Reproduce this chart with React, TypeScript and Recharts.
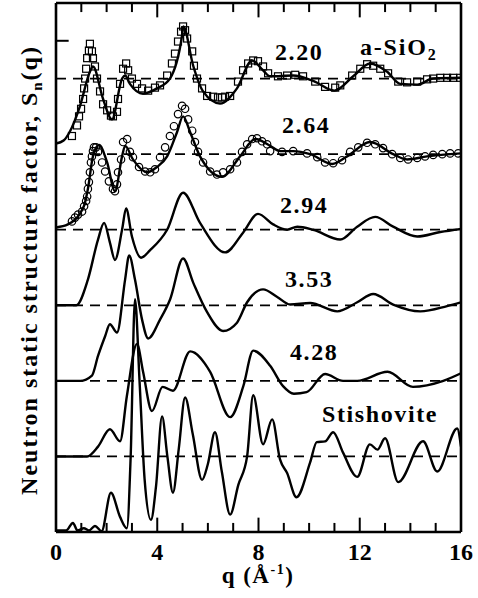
import React from 'react';
import {
  ComposedChart,
  Line,
  Scatter,
  XAxis,
  YAxis,
  ReferenceLine,
} from 'recharts';

// Sn(q), [q, S] pairs. Each curve is shifted up by its stack offset.
const fit220: [number, number][] = [
  [0, 0.14], [0.3, 0.18], [0.55, 0.3], [0.95, 0.64], [1.34, 1.09], [1.46, 1.16], [1.86, 0.73],
  [2.21, 0.46], [2.61, 1.0], [2.73, 1.04], [2.92, 0.93], [3.44, 0.8], [3.99, 0.87], [4.5, 1.0],
  [4.98, 1.57], [5.03, 1.69], [5.42, 1.17], [5.81, 0.83], [6.48, 0.67], [7.15, 0.87], [7.75, 1.24],
  [8.18, 1.11], [8.46, 1.03], [9.37, 1.04], [10.16, 0.97], [11.0, 0.84], [11.74, 1.03], [12.41, 1.2],
  [13.08, 1.09], [13.6, 0.93], [14.27, 0.92], [14.9, 1.0], [16, 1.01],
];
const fit264: [number, number][] = [
  [0, 0.03], [0.47, 0.07], [1.1, 0.31], [1.26, 0.54], [1.46, 0.97], [1.7, 1.12], [2.02, 0.89],
  [2.33, 0.51], [2.61, 0.97], [2.73, 1.11], [3.04, 0.93], [3.6, 0.76], [3.99, 0.83], [4.39, 0.97],
  [4.78, 1.29], [5.02, 1.5], [5.3, 1.29], [5.69, 0.97], [6.56, 0.7], [7.27, 0.97], [7.87, 1.2],
  [8.46, 1.11], [8.85, 1.04], [9.37, 1.04], [10.04, 1.0], [10.91, 0.87], [11.5, 0.97], [12.41, 1.16],
  [13.32, 1.0], [13.87, 0.93], [14.66, 0.97], [16, 1.01],
];
const curve294: [number, number][] = [
  [0, 0], [0.8, 0], [1.26, 0.34], [1.66, 0.87], [1.9, 1.09], [2.13, 0.83], [2.33, 0.6], [2.61, 1.0],
  [2.77, 1.28], [3.0, 0.91], [3.36, 0.63], [3.72, 0.73], [4.39, 1.0], [5.02, 1.49], [5.69, 1.09],
  [6.68, 0.7], [7.39, 0.96], [7.98, 1.21], [8.58, 1.07], [9.13, 1.0], [9.53, 1.04], [10.16, 1.0],
  [11.23, 0.87], [11.9, 1.04], [12.61, 1.17], [13.32, 1.04], [14.27, 0.91], [15.18, 0.97], [16, 1.01],
];
const curve353: [number, number][] = [
  [0, 0], [0.95, 0], [1.42, 0.07], [1.66, 0.33], [1.94, 0.59], [2.13, 0.75], [2.41, 0.64],
  [2.73, 1.34], [2.89, 1.66], [3.12, 1.34], [3.4, 0.81], [3.64, 0.56], [4.11, 0.81], [4.51, 1.08],
  [5.02, 1.62], [5.42, 1.3], [5.97, 0.91], [6.6, 0.66], [7.15, 0.77], [7.55, 1.04], [8.18, 1.21],
  [8.74, 1.11], [9.25, 1.01], [10.04, 1.03], [11.11, 0.92], [11.9, 1.04], [12.53, 1.15],
  [13.32, 1.01], [14.39, 0.92], [15.45, 0.99], [16, 1.04],
];
const curve428: [number, number][] = [
  [0, 0], [1.23, 0], [1.66, 0.13], [2.13, 0.36], [2.53, 0.2], [2.8, 0.8], [3.2, 1.49], [3.44, 1.12],
  [3.79, 0.6], [4.21, 0.92], [4.62, 0.87], [5.3, 1.39], [6.09, 1.12], [6.88, 0.52], [7.4, 0.93],
  [7.79, 1.4], [8.46, 1.2], [8.97, 0.93], [9.4, 0.83], [9.9, 0.85], [10.63, 1.09], [11.34, 1.0],
  [11.9, 1.0], [13.1, 1.12], [14.1, 0.92], [15.3, 1.0], [16, 1.1],
];
const curveStish: [number, number][] = [
  [0, 0.02], [0.4, 0.02], [0.67, 0.12], [0.85, 0.02], [1.1, 0.05], [1.3, 0.02], [1.54, 0.08],
  [1.8, 0.01], [2.17, 0.52], [2.53, 0.2], [2.8, 0.05], [2.95, 1.0], [3.12, 3.08], [3.3, 2.0],
  [3.5, 0.7], [3.75, 0.16], [3.95, 0.6], [4.19, 1.53], [4.4, 1.0], [4.62, 0.52], [4.85, 1.1],
  [5.1, 1.78], [5.4, 1.3], [5.77, 0.69], [6.0, 0.9], [6.28, 1.32], [6.55, 0.8], [6.88, 0.23],
  [7.2, 0.62], [7.55, 1.0], [7.79, 1.81], [8.18, 1.16], [8.54, 1.49], [8.85, 0.96], [9.13, 0.78],
  [9.5, 0.46], [10.04, 0.92], [10.3, 1.19], [10.63, 1.2], [10.95, 1.32], [11.34, 1.05], [11.9, 0.73],
  [12.4, 1.16], [12.7, 1.09], [13.0, 1.24], [13.52, 0.66], [14.5, 1.2], [15.06, 0.8], [15.85, 1.37],
  [16, 1.13],
];

// measured points (squares: 2.20, circles: 2.64)
const data220: [number, number][] = [
  [0.63, 0.24], [0.83, 0.38], [0.91, 0.5], [0.99, 0.6], [1.07, 0.73], [1.11, 0.87], [1.15, 1.0],
  [1.19, 1.13], [1.23, 1.27], [1.3, 1.37], [1.34, 1.46], [1.42, 1.36], [1.46, 1.27], [1.54, 1.16],
  [1.62, 1.0], [1.74, 0.83], [1.86, 0.66], [2.02, 0.58], [2.17, 0.51], [2.25, 0.5], [2.41, 0.56],
  [2.45, 0.73], [2.53, 0.93], [2.65, 1.13], [2.77, 1.2], [2.85, 1.11], [3.0, 1.0], [3.2, 0.93],
  [3.4, 0.87], [3.64, 0.84], [3.91, 0.88], [4.11, 0.91], [4.39, 1.04], [4.58, 1.2], [4.7, 1.33],
  [4.82, 1.49], [4.94, 1.62], [5.02, 1.69], [5.1, 1.64], [5.18, 1.53], [5.38, 1.36], [5.45, 1.17],
  [5.57, 1.0], [5.77, 0.87], [5.97, 0.77], [6.21, 0.76], [6.4, 0.75], [6.56, 0.75], [6.68, 0.76],
  [6.88, 0.77], [7.19, 0.96], [7.39, 1.11], [7.59, 1.2], [7.79, 1.24], [7.98, 1.23], [8.18, 1.16],
  [8.38, 1.07], [8.77, 1.03], [9.13, 1.04], [9.45, 1.05], [9.76, 1.03], [10.24, 0.96], [10.63, 0.89],
  [11.03, 0.88], [11.23, 0.91], [11.7, 1.04], [12.02, 1.13], [12.29, 1.19], [12.53, 1.17],
  [12.81, 1.13], [13.12, 1.07], [13.52, 0.96], [13.87, 0.95], [14.27, 0.96], [14.66, 0.99],
  [14.9, 1.0], [15.18, 1.01], [15.45, 1.01], [15.69, 1.01], [15.97, 1.01],
];
const data264: [number, number][] = [
  [0.63, 0.11], [0.75, 0.16], [0.87, 0.2], [1.03, 0.24], [1.11, 0.31], [1.19, 0.38], [1.23, 0.44],
  [1.26, 0.54], [1.3, 0.63], [1.34, 0.76], [1.38, 0.89], [1.42, 0.97], [1.46, 1.04], [1.5, 1.09],
  [1.58, 1.09], [1.66, 1.03], [1.82, 0.89], [1.94, 0.77], [2.09, 0.64], [2.25, 0.54], [2.33, 0.51],
  [2.41, 0.6], [2.45, 0.76], [2.57, 0.93], [2.65, 1.16], [2.81, 1.2], [2.92, 1.03], [3.04, 0.96],
  [3.28, 0.83], [3.52, 0.77], [3.72, 0.76], [3.91, 0.8], [4.11, 0.96], [4.31, 1.09], [4.5, 1.24],
  [4.66, 1.37], [4.82, 1.53], [4.98, 1.64], [5.1, 1.6], [5.22, 1.46], [5.38, 1.31], [5.49, 1.16],
  [5.61, 1.03], [5.81, 0.89], [6.09, 0.77], [6.36, 0.73], [6.6, 0.76], [6.88, 0.8], [7.15, 0.89],
  [7.35, 1.03], [7.55, 1.13], [7.75, 1.2], [7.94, 1.21], [8.14, 1.17], [8.34, 1.13], [8.46, 1.04],
  [8.93, 1.03], [9.37, 1.04], [9.92, 1.01], [10.32, 0.96], [10.63, 0.89], [10.95, 0.88], [11.3, 0.92],
  [11.62, 1.03], [11.94, 1.09], [12.29, 1.15], [12.61, 1.13], [12.92, 1.08], [13.28, 1.0],
  [13.6, 0.95], [13.91, 0.93], [14.27, 0.95], [14.58, 0.97], [14.9, 0.99], [15.26, 1.0],
  [15.57, 1.01], [15.89, 1.01],
];

const curveLabels = ['2.20', '2.64', '2.94', '3.53', '4.28', 'Stishovite'];
const stackShift = [5, 4, 3, 2, 1, 0];
const xTicks = [0, 4, 8, 12, 16];
const minorTicks = [1, 2, 3, 5, 6, 7, 9, 10, 11, 13, 14, 15];

const FONT = '"Liberation Serif", "Times New Roman", serif';

const shift = (pts: [number, number][], off: number) => pts.map(([q, s]) => ({ q, y: s + off }));

const curves = [fit220, fit264, curve294, curve353, curve428, curveStish];

const Square = (p: any) => (
  <rect x={p.cx - 3.5} y={p.cy - 3.5} width={7} height={7} fill="none" stroke="#000" strokeWidth={1.2} />
);
const Ring = (p: any) => <circle cx={p.cx} cy={p.cy} r={3.7} fill="none" stroke="#000" strokeWidth={1.2} />;

const TickLabel = (p: any) => (
  <text x={p.x} y={p.y + 20} textAnchor="middle" fontFamily={FONT} fontWeight="bold" fontSize={24} fill="#000">
    {p.payload.value}
  </text>
);

// label baselines in px (annotation placement)
const labelPos: [number, number][] = [[275, 60], [282, 133], [280, 213], [285, 287], [290, 360], [322, 422]];

export default function App() {
  const major = 0.19;
  const minor = 0.12;
  return (
    <div style={{ position: 'absolute', left: 0, top: 0, width: 478, height: 598, background: '#fff' }}>
      <ComposedChart width={478} height={598} margin={{ top: 3, right: 17, bottom: 32, left: 56 }}>
        <XAxis
          type="number"
          dataKey="q"
          domain={[0, 16]}
          ticks={xTicks}
          interval={0}
          axisLine={false}
          tickLine={false}
          tick={<TickLabel />}
          height={34}
          allowDataOverflow
        />
        <YAxis type="number" dataKey="y" domain={[0, 7]} hide allowDataOverflow />

        {stackShift.map((k) => (
          <ReferenceLine key={'d' + k} y={k + 1} stroke="#000" strokeWidth={1.8} strokeDasharray="10 7" />
        ))}

        {curves.map((c, i) => (
          <Line
            key={curveLabels[i]}
            data={shift(c, stackShift[i])}
            dataKey="y"
            type="monotone"
            stroke="#000"
            strokeWidth={2.4}
            dot={false}
            isAnimationActive={false}
          />
        ))}
        <Scatter data={shift(data220, stackShift[0])} shape={Square} isAnimationActive={false} />
        <Scatter data={shift(data264, stackShift[1])} shape={Ring} isAnimationActive={false} />

        {/* frame */}
        <ReferenceLine x={0} stroke="#000" strokeWidth={2.6} />
        <ReferenceLine x={16} stroke="#000" strokeWidth={2.6} />
        <ReferenceLine y={0} stroke="#000" strokeWidth={2.6} />
        <ReferenceLine y={7} stroke="#000" strokeWidth={2.6} />
        {xTicks.concat(minorTicks).map((t) => {
          const len = xTicks.includes(t) ? major : minor;
          return (
            <React.Fragment key={'t' + t}>
              <ReferenceLine segment={[{ x: t, y: 0 }, { x: t, y: len }]} stroke="#000" strokeWidth={2} />
              <ReferenceLine segment={[{ x: t, y: 7 }, { x: t, y: 7 - len }]} stroke="#000" strokeWidth={2} />
            </React.Fragment>
          );
        })}
        <ReferenceLine segment={[{ x: 0, y: 6.5 }, { x: 0.5, y: 6.5 }]} stroke="#000" strokeWidth={2} />
      </ComposedChart>

      <svg width={478} height={598} style={{ position: 'absolute', left: 0, top: 0, pointerEvents: 'none' }}>
        <g fontFamily={FONT} fontWeight="bold" fill="#000">
          {curveLabels.map((l, i) => (
            <text key={l} x={labelPos[i][0]} y={labelPos[i][1]} fontSize={24} letterSpacing={1.6}>
              {l}
            </text>
          ))}
          <text x={360} y={55} fontSize={24} letterSpacing={1.8}>
            a-SiO<tspan fontSize={16} dy={5}>2</tspan>
          </text>
          <text x={258} y={583} fontSize={23} letterSpacing={1.5} textAnchor="middle">
            q (Å<tspan fontSize={14} dy={-9}>-1</tspan><tspan dy={9}>)</tspan>
          </text>
          <text transform="translate(37, 270) rotate(-90)" fontSize={24} letterSpacing={2} textAnchor="middle">
            Neutron static structure factor, S<tspan fontSize={15} dy={5}>n</tspan><tspan dy={-5}>(q)</tspan>
          </text>
        </g>
      </svg>
    </div>
  );
}
